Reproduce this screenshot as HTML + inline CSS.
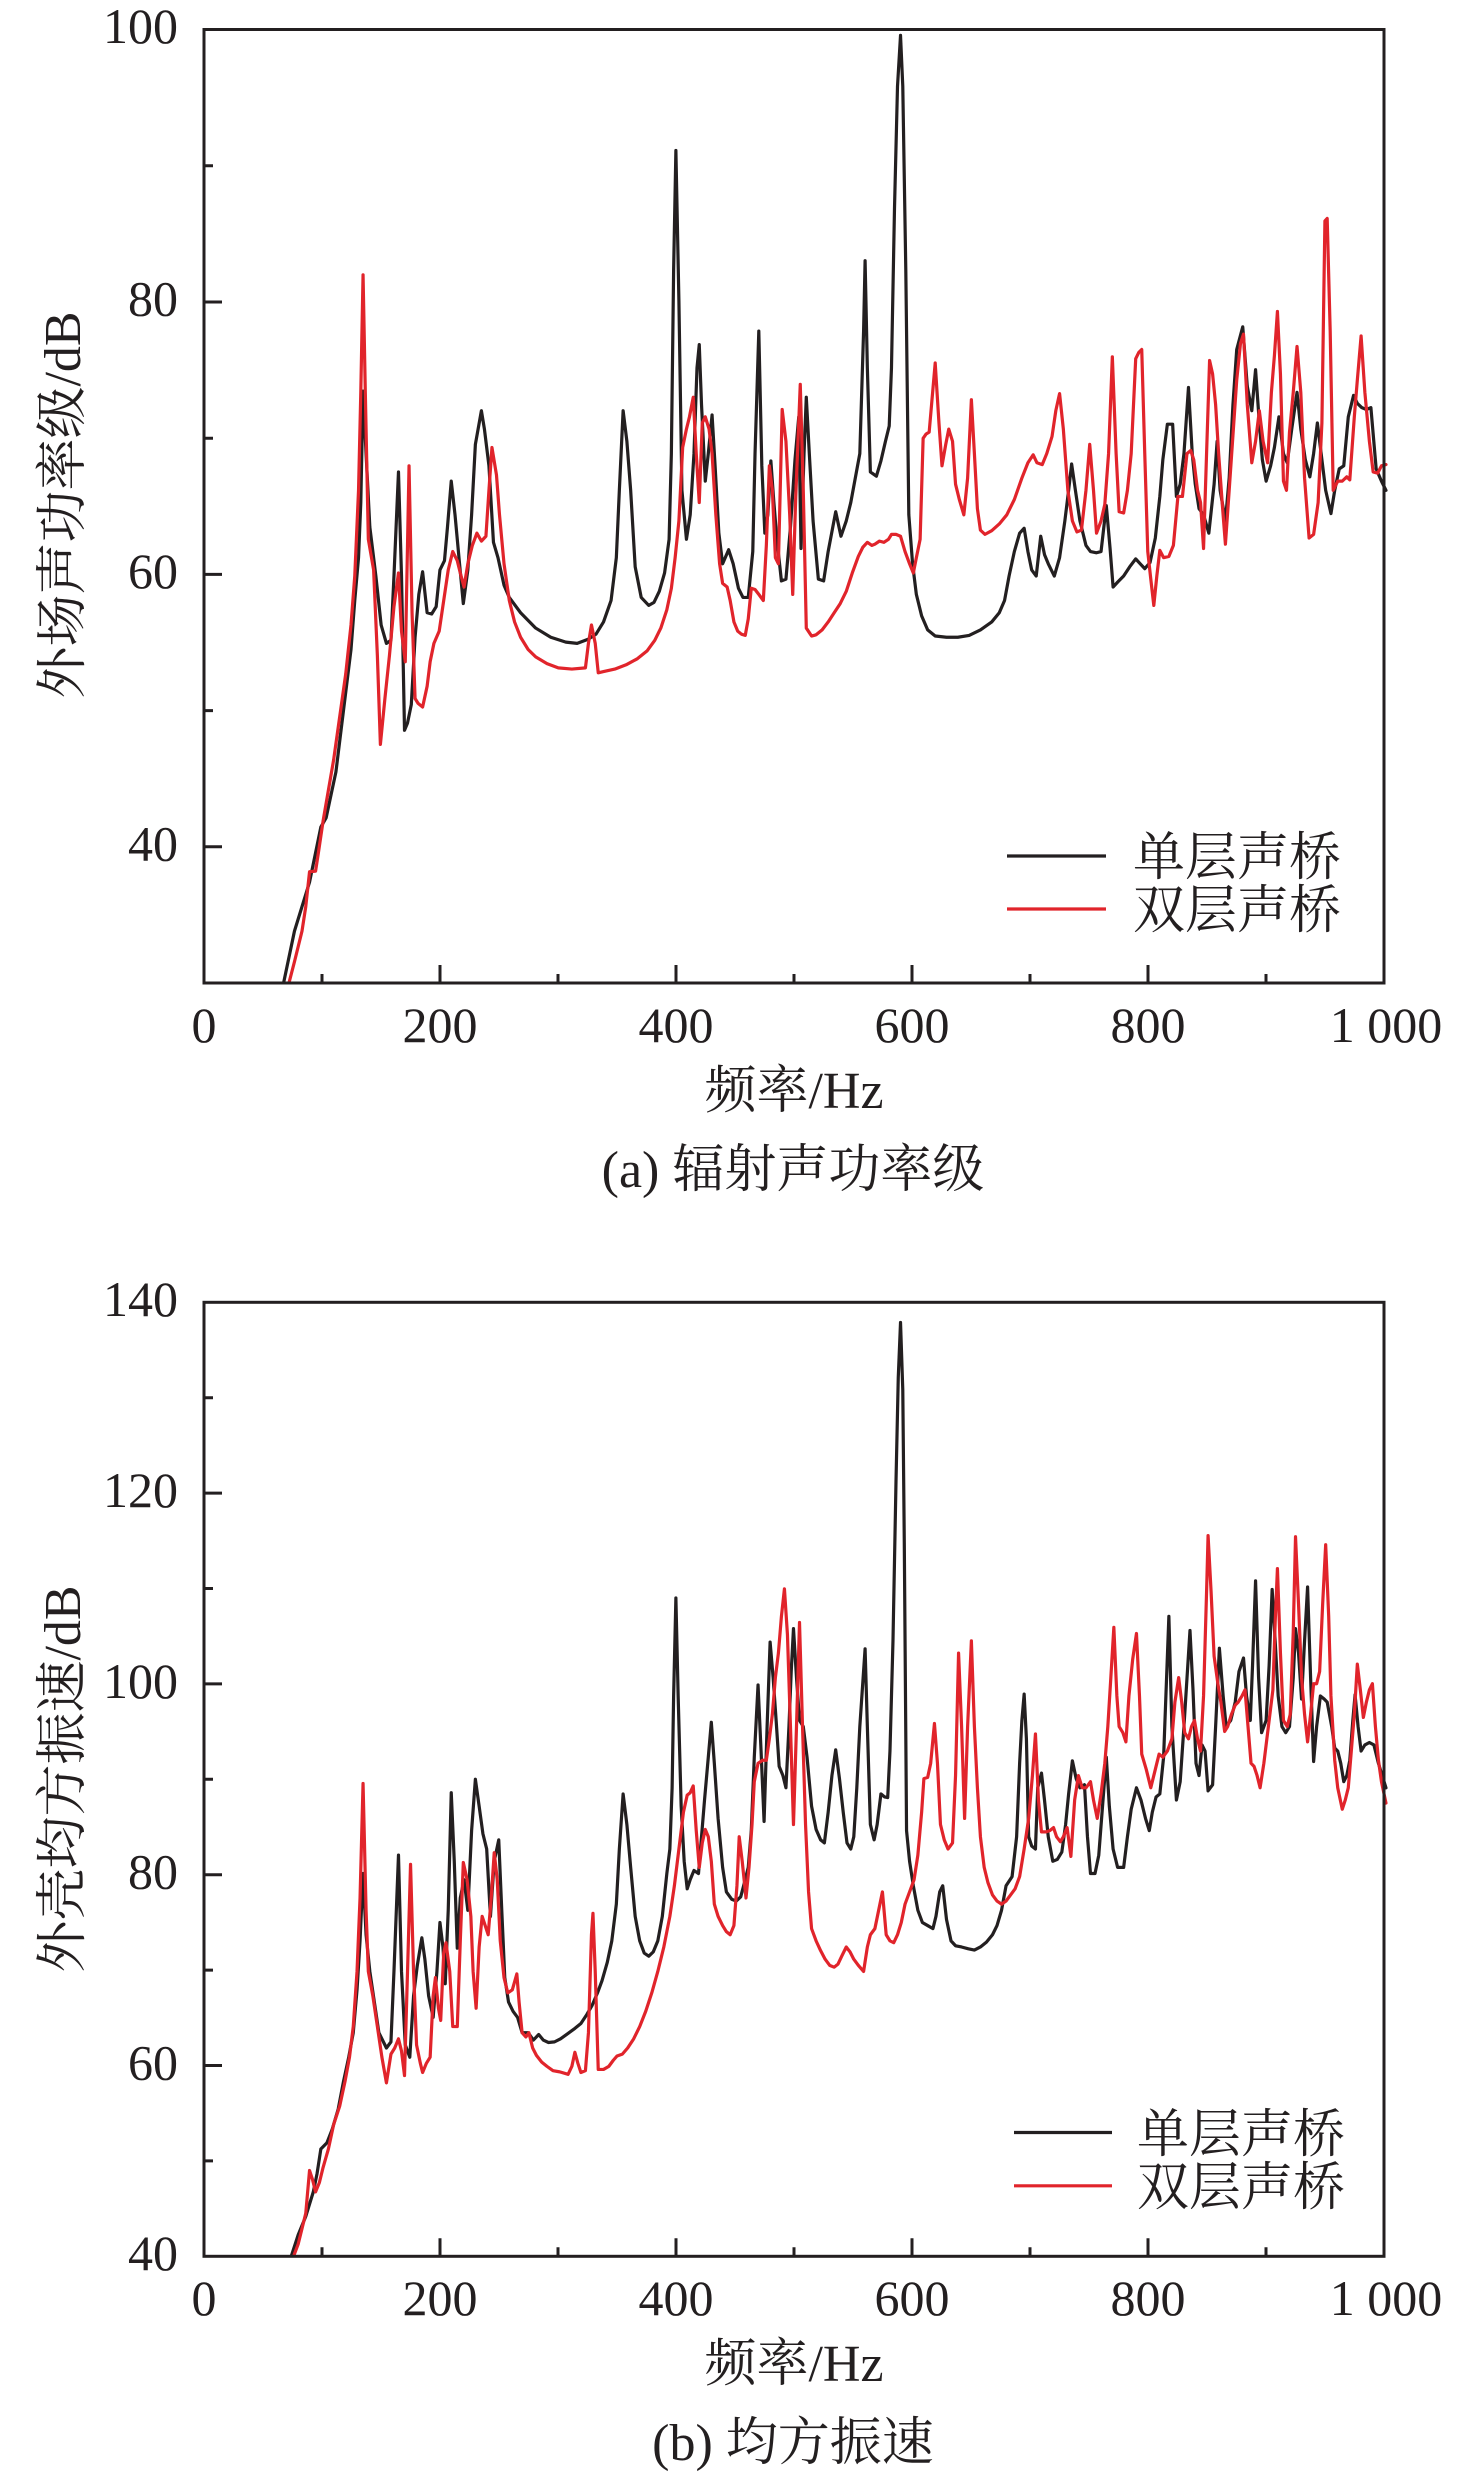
<!DOCTYPE html>
<html>
<head>
<meta charset="utf-8">
<style>
html,body{margin:0;padding:0;background:#fff;}
svg{display:block;}
text{font-family:"Liberation Serif","Noto Serif CJK SC",serif;fill:#231f20;}
</style>
</head>
<body>
<svg width="1476" height="2474" viewBox="0 0 1476 2474" xmlns="http://www.w3.org/2000/svg">
<defs>
<clipPath id="ca"><rect x="0" y="7" width="1575" height="1558"/></clipPath>
</defs>

<!-- ================= CHART A ================= -->
<g transform="translate(204,25) scale(0.75381,0.61225)" clip-path="url(#ca)" fill="none" stroke-linejoin="round" stroke-linecap="round">
<polyline vector-effect="non-scaling-stroke" stroke="#231f20" stroke-width="3.2" points="105,1568 120,1480 140,1400 155,1310 162,1295 175,1220 185,1120 195,1020 200,940 205,870 208,780 211,598 215,700 220,820 228,900 235,980 242,1010 248,1005 252,900 258,730 262,900 266,1152 270,1140 275,1110 280,1000 285,930 290,893 296,960 302,962 308,950 313,890 319,875 323,820 328,745 333,800 339,880 344,945 350,890 355,800 360,685 368,630 372,660 378,720 384,845 390,870 398,915 405,935 420,960 440,985 460,1000 480,1008 495,1010 510,1003 520,995 530,975 540,940 547,870 551,760 556,630 561,680 566,760 572,885 580,935 590,948 597,943 604,925 611,895 617,840 620,700 623,400 626,205 630,450 634,760 640,840 645,800 650,700 654,560 657,522 660,620 665,745 669,700 674,637 678,720 683,830 688,880 696,857 702,880 709,920 715,935 722,935 728,860 731,700 736,500 740,720 744,830 748,800 752,712 756,780 760,840 766,908 772,905 778,820 784,710 789,640 792,855 796,700 799,608 803,700 808,810 815,905 822,908 828,860 838,795 845,835 852,810 858,780 864,740 870,700 875,500 877,385 880,560 884,730 892,737 898,712 904,680 909,655 912,560 916,300 920,100 924,17 927,100 931,400 935,800 940,880 945,930 952,965 960,988 970,998 985,1000 1000,1000 1015,997 1030,988 1045,975 1055,960 1062,940 1068,900 1075,860 1082,830 1088,822 1093,860 1098,890 1104,900 1110,835 1115,865 1120,880 1128,900 1135,870 1142,810 1147,760 1151,717 1156,760 1162,810 1170,850 1176,860 1184,862 1190,860 1197,785 1202,855 1206,918 1212,910 1220,900 1228,885 1236,872 1242,880 1248,888 1255,878 1262,838 1268,770 1272,710 1278,652 1285,652 1290,770 1295,750 1300,700 1306,592 1311,700 1315,750 1320,790 1326,800 1333,830 1340,750 1344,680 1348,760 1355,810 1360,740 1365,620 1370,530 1378,493 1384,590 1390,630 1395,563 1400,650 1404,710 1409,745 1415,720 1420,690 1426,640 1432,700 1437,715 1443,660 1450,600 1455,660 1461,710 1467,738 1472,700 1477,650 1482,700 1488,760 1495,798 1500,760 1506,725 1512,720 1518,640 1525,605 1530,618 1536,625 1542,628 1548,625 1555,725 1562,745 1568,760"/>
<polyline vector-effect="non-scaling-stroke" stroke="#e1242b" stroke-width="3.2" points="112,1568 120,1530 130,1480 135,1440 140,1383 148,1382 152,1350 158,1300 165,1250 172,1200 180,1130 188,1060 195,980 200,900 205,760 208,600 211,408 214,600 218,840 225,890 230,1030 234,1175 240,1100 246,1030 252,950 258,895 262,990 267,1040 272,720 276,960 280,1100 284,1108 290,1114 296,1080 300,1040 305,1010 312,990 318,940 324,890 330,860 336,875 340,895 345,918 350,880 356,850 362,830 368,843 374,835 378,760 382,690 388,735 392,800 398,880 405,940 412,975 420,1000 430,1020 440,1032 455,1043 470,1050 488,1052 506,1050 510,1010 514,980 519,1010 523,1058 530,1056 545,1052 560,1045 575,1035 588,1022 598,1005 606,985 614,955 620,920 625,870 630,810 635,690 640,660 644,640 649,608 653,700 657,780 661,650 665,640 670,660 674,700 679,800 684,880 688,912 694,918 698,940 703,975 708,990 713,995 718,997 722,970 726,920 731,922 736,930 742,940 746,850 750,720 754,760 758,870 762,880 767,628 772,680 777,800 781,930 785,770 791,587 795,760 799,985 806,998 812,996 820,988 828,975 836,960 844,945 852,925 860,895 868,868 874,853 880,845 886,850 890,848 896,843 902,845 908,840 912,832 918,832 924,835 930,860 936,880 941,895 945,870 950,840 954,675 958,668 962,665 970,552 975,650 979,720 984,685 988,660 993,680 997,750 1002,775 1008,800 1013,740 1018,612 1022,700 1026,790 1030,825 1036,832 1045,826 1055,815 1065,800 1075,775 1085,740 1093,715 1100,702 1105,715 1112,718 1118,700 1125,672 1130,630 1135,602 1140,660 1146,760 1152,810 1158,828 1164,825 1170,760 1175,685 1180,760 1184,830 1190,810 1195,783 1200,700 1205,542 1210,700 1214,795 1220,797 1225,760 1230,700 1236,545 1240,535 1244,530 1248,700 1252,860 1256,905 1260,948 1264,900 1268,858 1273,870 1280,868 1286,850 1292,770 1298,770 1304,700 1309,695 1313,710 1318,760 1322,780 1326,855 1330,700 1334,548 1338,570 1342,620 1346,700 1351,785 1355,848 1360,760 1365,670 1370,580 1375,520 1379,505 1384,620 1390,715 1395,680 1400,630 1405,680 1411,715 1416,600 1420,540 1424,468 1428,570 1432,745 1436,760 1440,665 1445,600 1450,525 1455,600 1460,740 1466,838 1472,832 1478,780 1483,650 1487,320 1490,316 1494,500 1498,760 1504,745 1510,745 1516,738 1520,743 1526,640 1530,580 1535,508 1540,600 1546,680 1551,730 1557,732 1562,720 1568,718"/>
</g>

<!-- axes A -->
<g stroke="#231f20" stroke-width="3" fill="none">
<rect x="204" y="29.5" width="1180" height="953.5"/>
<!-- x ticks -->
<path d="M440,983 V965 M676,983 V965 M912,983 V965 M1148,983 V965 M322,983 V974 M558,983 V974 M794,983 V974 M1030,983 V974 M1266,983 V974"/>
<!-- y ticks -->
<path d="M204,846.8 H222 M204,574.4 H222 M204,302 H222 M204,710.6 H213 M204,438.2 H213 M204,165.8 H213"/>
</g>
<g font-size="50">
<text x="178" y="43" text-anchor="end">100</text>
<text x="178" y="315.5" text-anchor="end">80</text>
<text x="178" y="588" text-anchor="end">60</text>
<text x="178" y="860.3" text-anchor="end">40</text>
<text x="204" y="1042" text-anchor="middle">0</text>
<text x="440" y="1042" text-anchor="middle">200</text>
<text x="676" y="1042" text-anchor="middle">400</text>
<text x="912" y="1042" text-anchor="middle">600</text>
<text x="1148" y="1042" text-anchor="middle">800</text>
<text x="1386" y="1042" text-anchor="middle">1 000</text>
</g>
<g font-size="52">
<text x="794" y="1108" text-anchor="middle">频率/Hz</text>
<text x="793" y="1187" text-anchor="middle">(a) 辐射声功率级</text>
<text transform="translate(80,505) rotate(-90)" text-anchor="middle">外场声功率级/dB</text>
<text x="1133" y="875">单层声桥</text>
<text x="1133" y="928">双层声桥</text>
</g>
<line x1="1007" y1="856" x2="1106" y2="856" stroke="#231f20" stroke-width="3.2"/>
<line x1="1007" y1="909" x2="1106" y2="909" stroke="#e1242b" stroke-width="3.2"/>

<!-- ================= CHART B ================= -->
<g transform="translate(204,1298) scale(0.75381,0.61225)" clip-path="url(#ca)" fill="none" stroke-linejoin="round" stroke-linecap="round">
<polyline vector-effect="non-scaling-stroke" stroke="#231f20" stroke-width="3.2" points="115,1568 125,1530 135,1500 145,1460 150,1430 155,1390 163,1380 170,1358 178,1325 185,1280 192,1240 198,1200 203,1130 207,1050 211,940 215,1040 220,1100 226,1150 232,1200 238,1215 242,1225 248,1215 252,1100 258,910 262,1100 267,1220 273,1240 278,1140 283,1090 289,1045 293,1080 298,1140 304,1175 309,1100 313,1020 317,1060 320,1120 324,1000 328,808 332,920 336,1062 340,980 345,950 350,1000 355,870 360,786 365,830 370,875 375,900 380,1010 385,920 391,885 395,1000 399,1110 404,1150 410,1165 416,1175 422,1200 430,1200 437,1212 444,1203 450,1212 457,1216 465,1215 473,1210 482,1202 492,1193 500,1185 508,1170 515,1155 522,1135 528,1115 535,1085 541,1050 547,990 551,900 556,810 561,860 566,930 572,1010 578,1050 584,1070 590,1075 596,1068 602,1050 608,1010 614,940 618,900 621,800 623,650 626,490 629,650 633,830 637,920 641,965 645,950 650,935 656,940 660,880 664,820 669,750 673,693 677,760 682,850 688,930 693,970 700,982 706,985 712,978 718,950 722,930 726,870 730,750 735,632 739,740 743,855 747,700 751,562 755,620 759,690 763,765 768,780 772,800 776,700 779,610 782,540 786,620 790,690 795,700 800,750 806,830 812,868 818,885 823,890 828,840 833,780 838,738 843,785 848,840 853,890 858,900 862,880 866,800 870,700 877,573 880,700 884,860 889,885 893,860 898,810 903,815 907,816 910,740 914,560 918,300 921,130 924,40 927,150 929,400 932,870 936,920 941,960 947,1000 953,1020 960,1025 967,1030 971,1010 976,970 980,960 985,1015 991,1050 997,1058 1005,1060 1014,1063 1022,1065 1030,1060 1038,1052 1046,1040 1052,1025 1058,1000 1064,960 1072,945 1078,880 1082,760 1085,690 1088,647 1091,720 1094,880 1098,895 1103,900 1106,800 1111,776 1115,820 1120,880 1126,920 1132,917 1138,905 1143,860 1147,810 1152,756 1157,785 1162,800 1168,795 1172,880 1176,940 1182,940 1187,910 1192,830 1197,750 1201,830 1206,900 1212,930 1220,930 1225,880 1230,835 1237,800 1243,820 1249,850 1254,870 1258,840 1263,815 1268,810 1273,750 1280,520 1284,700 1290,820 1295,790 1300,700 1308,543 1312,640 1316,760 1320,780 1324,730 1328,740 1332,805 1338,795 1342,700 1347,572 1352,650 1356,700 1362,690 1368,660 1373,610 1379,588 1383,650 1388,690 1391,600 1395,462 1399,620 1403,710 1409,690 1413,600 1417,476 1421,560 1425,650 1430,700 1435,710 1440,700 1445,620 1448,540 1452,580 1456,655 1460,560 1464,472 1468,620 1472,757 1476,700 1481,650 1486,655 1490,660 1496,700 1500,735 1504,740 1508,760 1512,790 1516,780 1520,755 1524,690 1527,648 1531,700 1535,740 1540,730 1546,726 1552,730 1558,760 1563,780 1568,800"/>
<polyline vector-effect="non-scaling-stroke" stroke="#e1242b" stroke-width="3.2" points="118,1568 125,1545 130,1520 135,1495 140,1425 144,1440 148,1460 153,1445 158,1420 165,1390 172,1350 180,1320 187,1280 193,1240 198,1190 203,1100 207,980 211,793 215,1000 218,1100 224,1140 230,1190 236,1240 242,1282 248,1235 253,1225 258,1210 262,1230 266,1270 270,1100 274,925 278,1100 282,1220 287,1250 290,1265 295,1250 300,1240 304,1140 307,1110 311,1160 314,1180 318,1070 321,1053 326,1100 330,1190 336,1190 340,1050 344,922 349,950 354,1010 357,1100 361,1160 365,1060 369,1010 373,1025 377,1040 381,980 385,906 389,950 393,1050 398,1110 403,1135 409,1130 415,1104 418,1150 422,1200 427,1207 431,1200 436,1225 441,1237 448,1248 455,1255 463,1262 472,1264 483,1268 488,1255 492,1232 496,1250 500,1265 506,1262 510,1200 514,1040 516,1005 519,1100 523,1260 530,1260 537,1255 543,1245 548,1238 555,1235 562,1225 570,1210 578,1190 586,1165 594,1135 602,1100 610,1060 618,1010 624,960 630,900 636,840 641,812 645,808 649,797 653,870 657,930 661,890 665,868 669,880 673,920 677,990 682,1010 688,1025 693,1035 698,1040 703,1025 707,960 710,880 714,920 719,980 723,930 727,860 730,790 735,760 741,755 746,755 750,720 754,680 758,620 762,580 766,520 770,475 774,550 778,700 782,860 786,700 790,530 794,700 798,860 802,970 806,1030 812,1050 818,1066 824,1080 830,1090 836,1093 841,1088 846,1075 852,1060 857,1068 862,1080 868,1090 875,1100 880,1060 884,1040 890,1030 895,1000 900,970 905,1040 910,1050 915,1053 920,1040 925,1020 930,990 936,970 942,950 947,910 952,840 955,785 960,783 964,760 969,695 973,760 977,860 982,885 987,900 993,890 997,780 1001,580 1005,700 1009,850 1013,700 1018,560 1022,700 1026,800 1030,880 1035,930 1040,955 1046,975 1052,985 1058,990 1064,985 1070,975 1076,965 1082,945 1088,900 1094,850 1099,780 1103,712 1107,820 1111,872 1117,872 1122,870 1127,865 1131,880 1136,888 1140,880 1145,865 1150,912 1155,820 1160,780 1165,800 1170,800 1176,790 1180,820 1185,850 1190,810 1195,760 1199,700 1203,620 1207,538 1211,650 1214,700 1219,710 1223,725 1227,650 1232,590 1237,548 1241,650 1244,745 1250,770 1256,800 1262,770 1267,745 1272,750 1278,740 1284,720 1288,660 1293,620 1297,660 1301,710 1306,720 1310,700 1314,690 1318,720 1322,740 1326,650 1330,480 1332,388 1336,480 1340,585 1345,630 1349,660 1354,708 1358,700 1363,680 1368,665 1372,660 1377,650 1381,640 1385,700 1389,760 1393,765 1397,780 1401,800 1406,760 1410,720 1414,680 1418,640 1421,530 1424,442 1428,580 1432,690 1437,700 1441,680 1445,545 1448,390 1452,500 1456,620 1460,680 1464,725 1468,680 1472,630 1476,630 1480,610 1484,500 1488,403 1492,520 1495,650 1500,755 1504,800 1510,835 1514,820 1518,800 1522,740 1526,680 1530,598 1534,640 1538,685 1542,660 1546,640 1550,630 1554,700 1558,755 1562,790 1568,825"/>
</g>

<!-- axes B -->
<g stroke="#231f20" stroke-width="3" fill="none">
<rect x="204" y="1302.3" width="1180" height="954"/>
<path d="M440,2256.3 V2238.3 M676,2256.3 V2238.3 M912,2256.3 V2238.3 M1148,2256.3 V2238.3 M322,2256.3 V2247.3 M558,2256.3 V2247.3 M794,2256.3 V2247.3 M1030,2256.3 V2247.3 M1266,2256.3 V2247.3"/>
<path d="M204,2065.5 H222 M204,1874.7 H222 M204,1683.9 H222 M204,1493.1 H222 M204,2160.9 H213 M204,1970.1 H213 M204,1779.3 H213 M204,1588.5 H213 M204,1397.7 H213"/>
</g>
<g font-size="50">
<text x="178" y="1316" text-anchor="end">140</text>
<text x="178" y="1507" text-anchor="end">120</text>
<text x="178" y="1698" text-anchor="end">100</text>
<text x="178" y="1888.5" text-anchor="end">80</text>
<text x="178" y="2079.5" text-anchor="end">60</text>
<text x="178" y="2270" text-anchor="end">40</text>
<text x="204" y="2315" text-anchor="middle">0</text>
<text x="440" y="2315" text-anchor="middle">200</text>
<text x="676" y="2315" text-anchor="middle">400</text>
<text x="912" y="2315" text-anchor="middle">600</text>
<text x="1148" y="2315" text-anchor="middle">800</text>
<text x="1386" y="2315" text-anchor="middle">1 000</text>
</g>
<g font-size="52">
<text x="794" y="2381" text-anchor="middle">频率/Hz</text>
<text x="793" y="2460" text-anchor="middle">(b) 均方振速</text>
<text transform="translate(80,1779) rotate(-90)" text-anchor="middle">外壳均方振速/dB</text>
<text x="1137" y="2152">单层声桥</text>
<text x="1137" y="2205">双层声桥</text>
</g>
<line x1="1014" y1="2132.5" x2="1112" y2="2132.5" stroke="#231f20" stroke-width="3.2"/>
<line x1="1014" y1="2185.8" x2="1112" y2="2185.8" stroke="#e1242b" stroke-width="3.2"/>
</svg>
</body>
</html>
